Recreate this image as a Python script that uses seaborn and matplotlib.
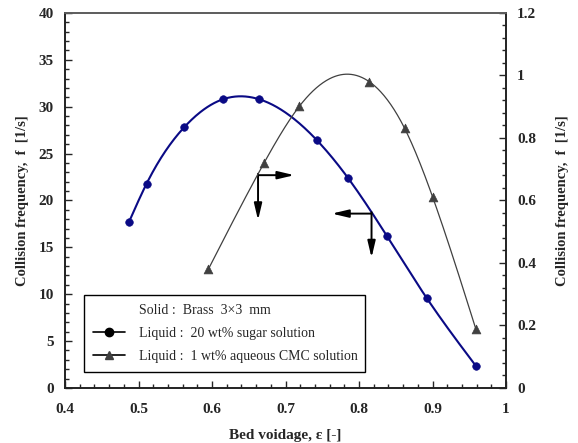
import matplotlib
matplotlib.use("Agg")
import matplotlib.pyplot as plt
from matplotlib.lines import Line2D
from matplotlib.ticker import MultipleLocator
import numpy as np
import pandas as pd
import seaborn as sns

# Liquid: 20 wt% sugar solution (left axis)
sugar_voidage = [0.487, 0.511, 0.562, 0.615, 0.664, 0.743, 0.785, 0.838, 0.892, 0.959]
sugar_freq = [17.7, 21.8, 27.8, 30.8, 30.8, 26.4, 22.4, 16.2, 9.6, 2.35]

# Liquid: 1 wt% aqueous CMC solution (right axis)
cmc_voidage = [0.595, 0.671, 0.719, 0.814, 0.862, 0.900, 0.959]
cmc_freq = [0.38, 0.721, 0.902, 0.980, 0.831, 0.612, 0.188]

legend_labels = [
    "Solid :  Brass  3\u00d73  mm",
    "Liquid :  20 wt% sugar solution",
    "Liquid :  1 wt% aqueous CMC solution",
]


def spline_curve(x, y, n=400):
    """Natural cubic spline through the measured points (smoothed line)."""
    x = np.asarray(x, float)
    y = np.asarray(y, float)
    m = len(x)
    h = np.diff(x)
    A = np.zeros((m, m))
    b = np.zeros(m)
    A[0, 0] = A[-1, -1] = 1
    for i in range(1, m - 1):
        A[i, i - 1] = h[i - 1]
        A[i, i] = 2 * (h[i - 1] + h[i])
        A[i, i + 1] = h[i]
        b[i] = 3 * ((y[i + 1] - y[i]) / h[i] - (y[i] - y[i - 1]) / h[i - 1])
    c = np.linalg.solve(A, b)
    xs = np.linspace(x[0], x[-1], n)
    k = np.clip(np.searchsorted(x, xs) - 1, 0, m - 2)
    dx = xs - x[k]
    bb = (y[k + 1] - y[k]) / h[k] - h[k] * (2 * c[k] + c[k + 1]) / 3
    dd = (c[k + 1] - c[k]) / (3 * h[k])
    ys = y[k] + bb * dx + c[k] * dx ** 2 + dd * dx ** 3
    return pd.DataFrame({"x": xs, "y": ys})


sns.set_style("ticks")
plt.rcParams["font.family"] = ["Liberation Serif", "DejaVu Sans"]
plt.rcParams["xtick.direction"] = "in"
plt.rcParams["ytick.direction"] = "in"

fig = plt.figure(figsize=(5.78, 4.43), dpi=100)
ax = fig.add_axes([0.1125, 0.1242, 0.763, 0.8465])
ax2 = ax.twinx()

blue = "#0a0a85"
grey = "#404040"

sugar_df = pd.DataFrame({"x": sugar_voidage, "y": sugar_freq})
cmc_df = pd.DataFrame({"x": cmc_voidage, "y": cmc_freq})

sns.lineplot(data=spline_curve(sugar_voidage, sugar_freq), x="x", y="y", sort=False,
             color=blue, lw=1.5, ax=ax)
sns.scatterplot(data=sugar_df, x="x", y="y", color=blue, s=30, edgecolor=blue,
                marker="o", ax=ax, zorder=5)

sns.lineplot(data=spline_curve(cmc_voidage, cmc_freq), x="x", y="y", sort=False,
             color=grey, lw=0.9, ax=ax2)
sns.scatterplot(data=cmc_df, x="x", y="y", color=grey, s=40, edgecolor=grey,
                marker="^", ax=ax2, zorder=5)

ax.set_xlim(0.4, 1.0)
ax.set_ylim(0, 40)
ax2.set_ylim(0, 1.2)

ax.xaxis.set_major_locator(MultipleLocator(0.1))
ax.xaxis.set_minor_locator(MultipleLocator(0.02))
ax.yaxis.set_major_locator(MultipleLocator(5))
ax.yaxis.set_minor_locator(MultipleLocator(1))
ax2.yaxis.set_major_locator(MultipleLocator(0.2))
ax2.yaxis.set_minor_locator(MultipleLocator(0.04))

ax.xaxis.set_major_formatter(plt.FuncFormatter(lambda v, p: f"{v:g}"))
ax2.yaxis.set_major_formatter(plt.FuncFormatter(lambda v, p: f"{v:g}"))

ax.tick_params(axis="both", which="major", length=5, width=1, labelsize=11, pad=8)
ax.tick_params(axis="x", which="major", pad=11)
ax.tick_params(axis="both", which="minor", length=3, width=1)
ax.tick_params(axis="y", right=False)
ax.tick_params(axis="x", top=False, which="both")
ax2.tick_params(axis="y", which="major", length=5, width=1, labelsize=11, pad=8)
ax2.tick_params(axis="y", which="minor", length=3, width=1)
for a in (ax, ax2):
    for lab in a.get_xticklabels() + a.get_yticklabels():
        lab.set_fontweight("bold")
    for s in a.spines.values():
        s.set_color("#222222")
        s.set_linewidth(1.2)
ax2.spines["top"].set_color("#666666")

ax.set_xlabel("Bed voidage, \u03b5 [-]", fontsize=11, fontweight="bold", labelpad=9)
ax.set_ylabel("Collision frequency,  f  [1/s]", fontsize=10.5, fontweight="bold", labelpad=7)
ax2.set_ylabel("Collision frequency,  f  [1/s]", fontsize=10.5, fontweight="bold", labelpad=14)

# direction arrows
arrow = dict(arrowstyle="-|>,head_length=0.55,head_width=0.13", mutation_scale=18, lw=1.4,
             color="black", shrinkA=0, shrinkB=0)
ax.annotate("", xy=(0.712, 22.7), xytext=(0.6626, 22.7), arrowprops=arrow)
ax.annotate("", xy=(0.6626, 17.9), xytext=(0.6626, 22.85), arrowprops=arrow)
ax.annotate("", xy=(0.763, 18.6), xytext=(0.817, 18.6), arrowprops=arrow)
ax.annotate("", xy=(0.817, 13.9), xytext=(0.817, 18.75), arrowprops=arrow)

handles = [
    Line2D([], [], linestyle="none", marker=None),
    Line2D([], [], color="black", lw=1.2, marker="o", markersize=6),
    Line2D([], [], color="black", lw=1.2, marker="^", markersize=6, markerfacecolor=grey,
           markeredgecolor=grey),
]
leg = ax2.legend(handles, legend_labels, loc="lower left",
                 bbox_to_anchor=(0.043, 0.043, 0.637, 0.218), mode="expand",
                 borderaxespad=0, fontsize=10, handlelength=2.3, handletextpad=1.0,
                 labelspacing=0.7, frameon=True, fancybox=False, borderpad=0.65)
leg.get_frame().set_edgecolor("black")
leg.get_frame().set_linewidth(1.0)
leg.get_frame().set_alpha(1)

fig.savefig("out.png", dpi=100)
